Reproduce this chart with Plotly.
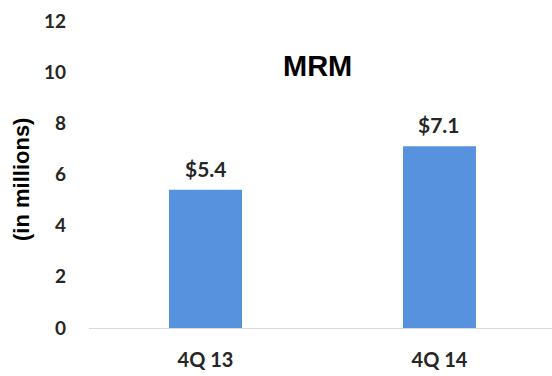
import plotly.graph_objects as go

categories = ["4Q 13", "4Q 14"]
values = [5.4, 7.1]
value_labels = ["$5.4", "$7.1"]
y_ticks = [0, 2, 4, 6, 8, 10, 12]

W, H = 552, 376
L, R, T, B = 89, 0, 21, 48

fig = go.Figure()
fig.add_trace(go.Bar(
    x=categories, y=values, width=0.312,
    marker=dict(color="#5692DE", line=dict(width=0)),
    hoverinfo="skip",
))

for c, v, t in zip(categories, values, value_labels):
    fig.add_annotation(x=c, y=v, text=t, showarrow=False, yanchor="bottom", yshift=7,
                       font=dict(family="Lato", size=21, color="#262626", weight="bold"))

fig.add_annotation(text="MRM", xref="paper", yref="paper",
                   x=(317.5 - L) / (W - L - R), y=(H - B - 66) / (H - T - B),
                   xanchor="center", yanchor="middle", showarrow=False,
                   font=dict(family="Liberation Sans", size=29, color="#000000", weight="bold"))

fig.add_annotation(text="(in millions)", xref="paper", yref="paper",
                   x=(21 - L) / (W - L - R), y=(H - B - 180) / (H - T - B),
                   xanchor="center", yanchor="middle", textangle=-90, showarrow=False,
                   font=dict(family="Liberation Sans", size=22, color="#000000", weight="bold"))

fig.update_layout(
    width=W, height=H,
    margin=dict(l=L, r=R, t=T, b=B, pad=0),
    paper_bgcolor="white", plot_bgcolor="white",
    showlegend=False,
    xaxis=dict(type="category", range=[-0.498, 1.481], showgrid=False, zeroline=False,
               showline=False, ticks="", ticklabelstandoff=18,
               tickfont=dict(family="Lato", size=20, color="#262626", weight="bold")),
    yaxis=dict(range=[0, 12], tickvals=y_ticks, showgrid=False, zeroline=True,
               zerolinecolor="#D9D9D9", zerolinewidth=1, showline=False, ticks="",
               ticklabelstandoff=22,
               tickfont=dict(family="Lato", size=19, color="#262626", weight="bold")),
)

fig.write_html("out.html")
